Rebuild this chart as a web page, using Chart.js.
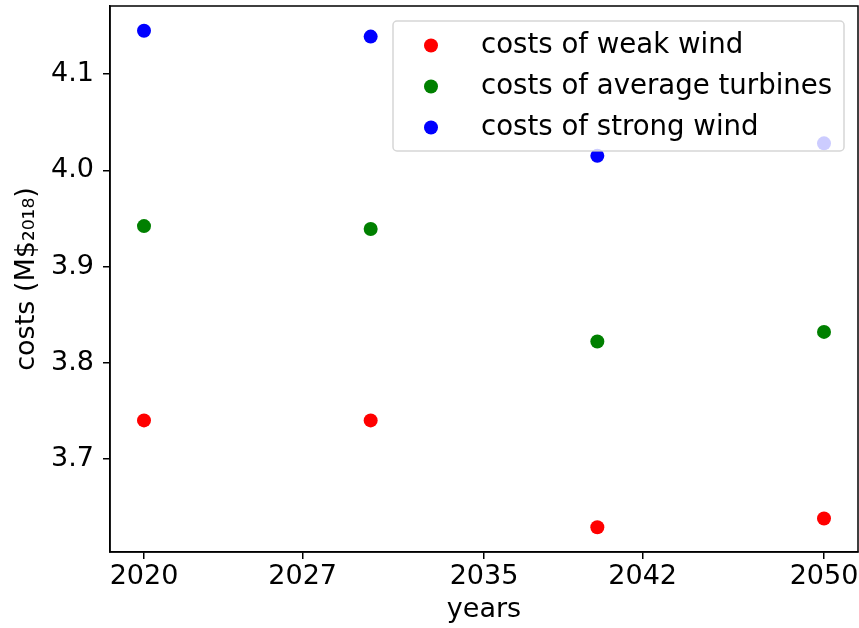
<!DOCTYPE html>
<html>
<head>
<meta charset="utf-8">
<script src="https://cdn.jsdelivr.net/npm/chart.js@4.4.1/dist/chart.umd.min.js"></script>
<style>
  html, body { margin: 0; padding: 0; background: #ffffff; }
  #wrap { width: 859px; height: 628px; position: relative; }
</style>
</head>
<body>
<div id="wrap"><canvas id="c" width="859" height="628"></canvas></div>
<script>
// Years and cost series (million dollars, 2018 prices)
const years = [2020, 2030, 2040, 2050];
const weakWind = [3.740, 3.740, 3.629, 3.638];
const averageTurbines = [3.942, 3.939, 3.822, 3.832];
const strongWind = [4.145, 4.139, 4.015, 4.028];

const seriesLabels = ['costs of weak wind', 'costs of average turbines', 'costs of strong wind'];
const seriesColors = ['#ff0000', '#008000', '#0000ff'];

const xTickValues = [2020, 2027, 2035, 2042, 2050];
const yTickValues = [3.7, 3.8, 3.9, 4.0, 4.1];

const FONT = "'DejaVu Sans', sans-serif";
const FS = 27;

// 5% padding around the data range on both axes
function paddedRange(values) {
  const lo = Math.min(...values), hi = Math.max(...values);
  const m = (hi - lo) * 0.05;
  return [lo - m, hi + m];
}
const [xMin, xMax] = paddedRange(years);
const [yMin, yMax] = paddedRange([...weakWind, ...averageTurbines, ...strongWind]);

const toPoints = arr => years.map((y, i) => ({ x: y, y: arr[i] }));
const allSeries = [weakWind, averageTurbines, strongWind];

const datasets = allSeries.map((arr, i) => ({
  label: seriesLabels[i],
  data: toPoints(arr),
  backgroundColor: seriesColors[i],
  borderColor: seriesColors[i],
  borderWidth: 0,
  pointRadius: 7,
  pointHoverRadius: 7,
  showLine: false
}));

// Full frame around the plotting area
const framePlugin = {
  id: 'frame',
  afterDatasetsDraw(chart) {
    const { ctx, chartArea: a } = chart;
    ctx.save();
    ctx.strokeStyle = '#000';
    ctx.lineWidth = 1.5;
    ctx.strokeRect(a.left, a.top, a.right - a.left, a.bottom - a.top);
    ctx.restore();
  }
};

// Legend box drawn on top of the markers, inside the upper right corner
const insideLegend = {
  id: 'insideLegend',
  afterDatasetsDraw(chart) {
    const { ctx, chartArea: a } = chart;
    const pad = 14;
    const w = 451, h = 130;
    const x0 = a.right - pad - w;
    const y0 = a.top + 15;
    ctx.save();
    ctx.beginPath();
    ctx.roundRect(x0, y0, w, h, 4);
    ctx.fillStyle = 'rgba(255,255,255,0.8)';
    ctx.fill();
    ctx.strokeStyle = 'rgba(204,204,204,0.8)';
    ctx.lineWidth = 1.5;
    ctx.stroke();
    ctx.font = '27.6px ' + FONT;
    ctx.textBaseline = 'middle';
    ctx.textAlign = 'left';
    chart.data.datasets.forEach((ds, i) => {
      const cy = y0 + 24.5 + i * 41;
      ctx.beginPath();
      ctx.arc(x0 + 38, cy, 7, 0, Math.PI * 2);
      ctx.fillStyle = ds.backgroundColor;
      ctx.fill();
      ctx.fillStyle = '#000';
      ctx.fillText(ds.label, x0 + 88, cy);
    });
    ctx.restore();
  }
};

// Keep the plotting area fixed regardless of label overhang
function noMargins(scale) {
  scale.paddingTop = 0;
  scale.paddingBottom = 0;
  scale.paddingLeft = 0;
  scale.paddingRight = 0;
}

new Chart(document.getElementById('c'), {
  type: 'scatter',
  data: { datasets },
  plugins: [framePlugin, insideLegend],
  options: {
    responsive: false,
    animation: false,
    events: [],
    layout: { autoPadding: false, padding: { top: 6, right: 1, left: 0, bottom: 0 } },
    plugins: {
      legend: { display: false },
      tooltip: { enabled: false }
    },
    scales: {
      x: {
        type: 'linear',
        min: xMin,
        max: xMax,
        afterBuildTicks(scale) { scale.ticks = xTickValues.map(v => ({ value: v })); },
        afterFit(scale) { scale.height = 76; noMargins(scale); },
        ticks: {
          color: '#000',
          font: { family: FONT, size: FS },
          padding: 2,
          maxRotation: 0,
          autoSkip: false,
          callback: v => String(v)
        },
        grid: {
          display: true,
          drawOnChartArea: false,
          drawTicks: true,
          tickLength: 7,
          color: '#000',
          lineWidth: 1.5
        },
        border: { display: true, color: '#000', width: 1.5 },
        title: {
          display: true,
          text: 'years',
          color: '#000',
          font: { family: FONT, size: FS },
          padding: { top: 0, bottom: 2 }
        }
      },
      y: {
        type: 'linear',
        min: yMin,
        max: yMax,
        afterBuildTicks(scale) { scale.ticks = yTickValues.map(v => ({ value: v })); },
        afterFit(scale) { scale.width = 110; noMargins(scale); },
        ticks: {
          color: '#000',
          font: { family: FONT, size: FS },
          padding: 9,
          autoSkip: false,
          callback: v => Number(v).toFixed(1)
        },
        grid: {
          display: true,
          drawOnChartArea: false,
          drawTicks: true,
          tickLength: 7,
          color: '#000',
          lineWidth: 1.5
        },
        border: { display: true, color: '#000', width: 1.5 },
        title: {
          display: true,
          text: 'costs (M$\u2082\u2080\u2081\u2088)',
          color: '#000',
          font: { family: FONT, size: FS },
          padding: { top: 11, bottom: 0 }
        }
      }
    }
  }
});
</script>
</body>
</html>
